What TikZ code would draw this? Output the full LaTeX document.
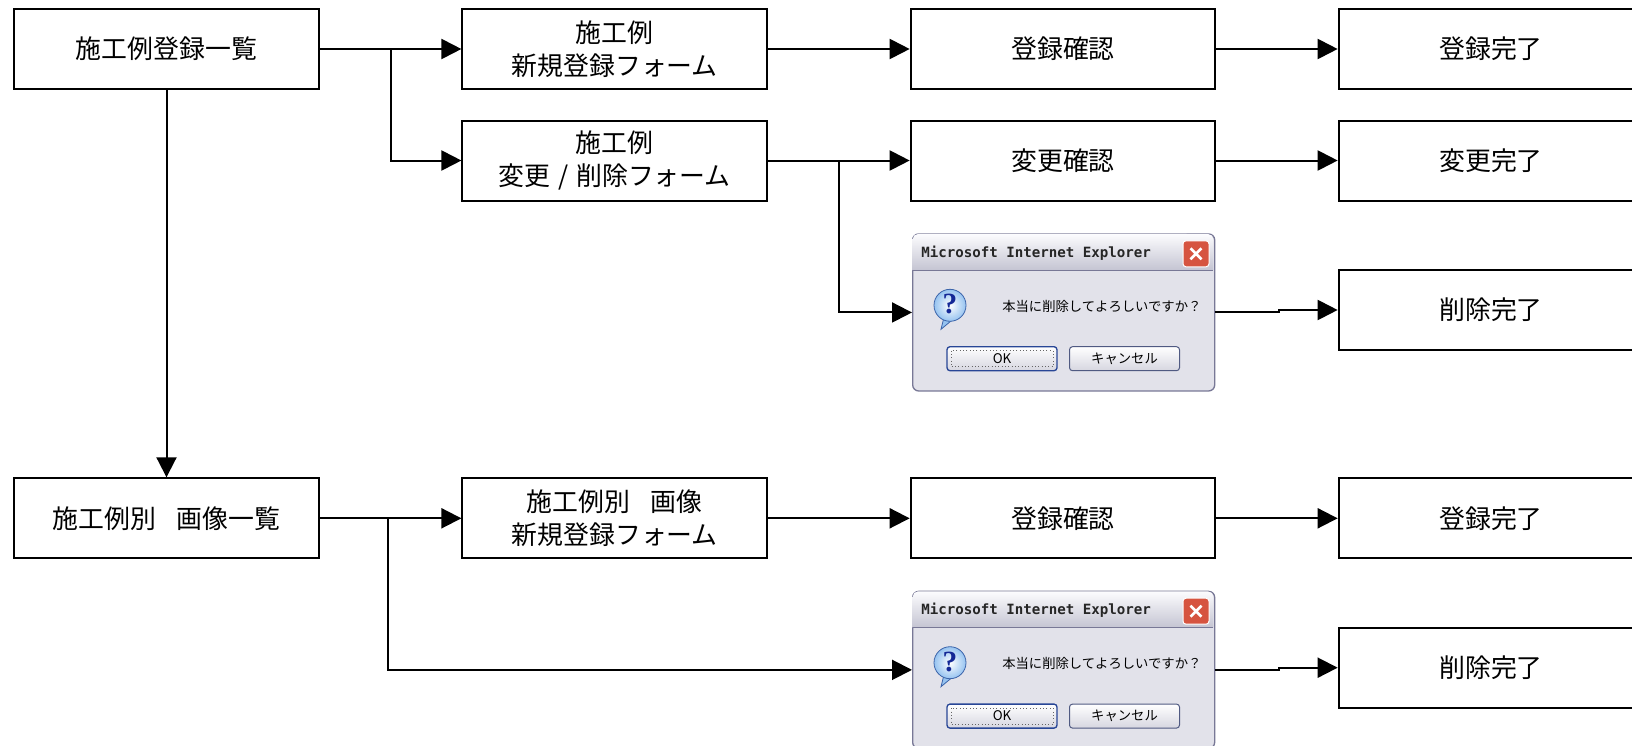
\documentclass[tikz,border=0pt]{standalone}
\usepackage{fontspec}
\setmainfont{Noto Sans CJK JP}
\newfontfamily\ietitle{DejaVu Sans Mono}
\newfontfamily\qmarkfont{Liberation Serif}
\usetikzlibrary{arrows.meta}
\definecolor{dlgbody}{RGB}{226,226,234}
\definecolor{dlgborder}{RGB}{120,120,150}
\definecolor{titletop}{RGB}{252,252,254}
\definecolor{titlebot}{RGB}{196,196,210}
\definecolor{closered}{RGB}{214,84,64}
\definecolor{btnborder}{RGB}{80,90,130}
\definecolor{okborder}{RGB}{40,70,150}
\definecolor{btnbot}{RGB}{214,214,224}
\definecolor{iconfill}{RGB}{150,195,240}
\definecolor{iconborder}{RGB}{60,100,170}
\definecolor{qblue}{RGB}{20,40,150}
\tikzset{
  box/.style={draw=black, line width=1.5pt, fill=white, minimum width=228.5pt,
    minimum height=60pt, inner sep=0pt, align=center,
    font=\fontsize{19.4}{24.75}\selectfont},
  arr/.style={line width=1.5pt, -{Triangle[length=15pt,width=15pt]}},
  dlgframe/.style={draw=dlgborder, line width=1pt, fill=dlgbody, rounded corners=4.5pt,
    minimum width=226.5pt, minimum height=117.75pt, inner sep=0pt, anchor=north west},
  btn/.style={draw=btnborder, line width=0.75pt, rounded corners=2.25pt, top color=white,
    bottom color=btnbot, minimum width=82.5pt, minimum height=18pt, inner sep=0pt,
    font=\fontsize{10}{12}\selectfont},
  closebtn/.style={draw=white, line width=0.75pt, fill=closered, rounded corners=2.25pt,
    minimum width=19.5pt, minimum height=19.5pt, inner sep=0pt},
}
\newcommand\iedialog[3]{%
  \node[dlgframe] (#1) at (#2,#3) {};
  \begin{scope}[shift={(#2,#3)}]
    \shade[top color=titletop, bottom color=titlebot]
      (0.7,37) -- (0.7,6) arc[start angle=180,end angle=90,radius=4pt]
      -- (296,0.7) arc[start angle=90,end angle=0,radius=4pt] -- (301.3,37) -- cycle;
    \draw[dlgborder, line width=0.75pt] (0.7,37) -- (301.3,37);
    \node[anchor=west, inner sep=0pt, text=black!85] (#1-title) at (9,20)
      {\ietitle\bfseries\fontsize{10.6}{12}\selectfont Microsoft Internet Explorer};
    \node[closebtn] (#1-close) at (284,20.5) {};
    \draw[white, line width=2pt] (278.5,15) -- (289.5,26) (278.5,26) -- (289.5,15);
    \filldraw[fill=iconfill, draw=iconborder, line width=0.6pt]
      (32,84) -- (29,96) -- (41,86) -- cycle;
    \node[circle, draw=iconborder, line width=0.6pt, inner color=white, outer color=iconfill,
      minimum size=24pt, inner sep=0pt] (#1-icon) at (38,72) {};
    \node[text=qblue, inner sep=0pt] (#1-q) at (38,71)
      {\qmarkfont\bfseries\fontsize{22}{22}\selectfont ?};
    \node[anchor=west, inner sep=0pt, font=\fontsize{10}{12}\selectfont] (#1-msg) at (90,73)
      {本当に削除してよろしいですか？};
    \node[btn, draw=okborder, line width=1pt] (#1-ok) at (90,125.4) {OK};
    \draw[black!60, dotted, line width=0.5pt] (39,117.5) rectangle (141,133.5);
    \node[btn] (#1-cancel) at (212.5,125.4) {キャンセル};
  \end{scope}}
\begin{document}
\begin{tikzpicture}[x=0.75pt, y=-0.75pt]
  \useasboundingbox[fill=white] (0,0) rectangle (1632,746);
  % row 1
  \node[box] (A) at (166.5,49) {施工例登録一覧};
  \node[box] (B) at (614.75,49) {施工例\\新規登録フォーム};
  \node[box] (C) at (1063,49) {登録確認};
  \node[box] (D) at (1491,49) {登録完了};
  % row 2
  \node[box] (E) at (614.75,160.5) {施工例\\変更\makebox[1em]{/}削除フォーム};
  \node[box] (F) at (1063,160.5) {変更確認};
  \node[box] (G) at (1491,160.5) {変更完了};
  \node[box] (H) at (1491,310) {削除完了};
  % lower block
  \node[box] (I) at (166.5,518.3) {施工例別\hspace{0.8em}画像一覧};
  \node[box] (J) at (614.75,518.3) {施工例別\hspace{0.8em}画像\\新規登録フォーム};
  \node[box] (K) at (1063,518.3) {登録確認};
  \node[box] (L) at (1491,518.3) {登録完了};
  \node[box] (M) at (1491,667.7) {削除完了};
  % dialogs
  \iedialog{dlgA}{912}{233.3}
  \iedialog{dlgB}{912}{590.7}
  % junctions
  \coordinate (j1) at (390.5,49);
  \coordinate (j2) at (839,160.5);
  \coordinate (j3) at (388,518.3);
  % connectors
  \draw[arr] (A.east) -- (B.west);
  \draw[arr] (j1) |- (E.west);
  \draw[arr] (B.east) -- (C.west);
  \draw[arr] (C.east) -- (D.west);
  \draw[arr] (E.east) -- (F.west);
  \draw[arr] (F.east) -- (G.west);
  \draw[arr] (j2) |- (dlgA.west);
  \draw[arr] (dlgA.east) -- ++(64,0) |- (H.west);
  \draw[arr] (A.south) -- (I.north);
  \draw[arr] (I.east) -- (J.west);
  \draw[arr] (j3) |- (dlgB.west);
  \draw[arr] (J.east) -- (K.west);
  \draw[arr] (K.east) -- (L.west);
  \draw[arr] (dlgB.east) -- ++(64,0) |- (M.west);
\end{tikzpicture}
\end{document}
